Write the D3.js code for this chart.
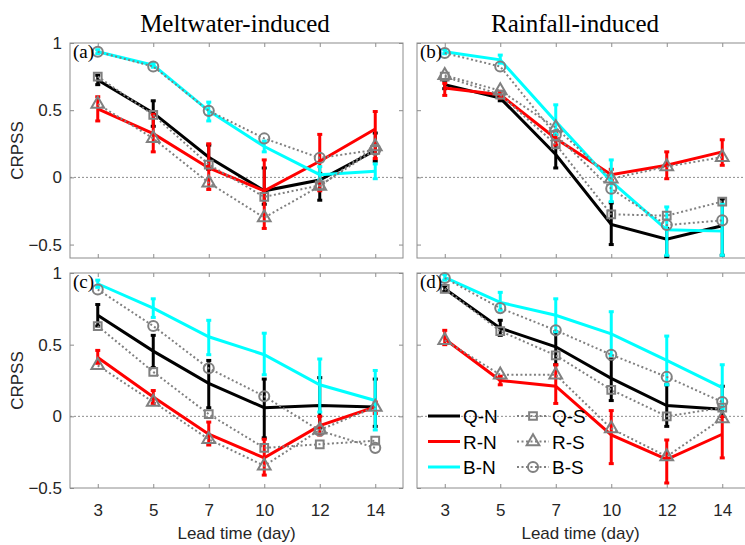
<!DOCTYPE html>
<html>
<head>
<meta charset="utf-8">
<script src="https://cdn.jsdelivr.net/npm/d3@7"></script>
<style>
  body { margin: 0; background: #fff; }
  svg { display: block; }
</style>
</head>
<body>
<div id="chart"></div>
<script>
"use strict";

// lead times (x categories) and y ticks
const leadTimes = ["3", "5", "7", "10", "12", "14"];
const yTicks = [-0.5, 0, 0.5, 1];
const colTitles = ["Meltwater-induced", "Rainfall-induced"];
const legendNames = ["Q-N", "R-N", "B-N", "Q-S", "R-S", "B-S"];

/* (a) meltwater, top row */
const a_QN    = [0.725, 0.48, 0.15, -0.10, -0.02, 0.20];
const a_QN_lo = [0.69, 0.38, 0.06, -0.20, -0.17, 0.12];
const a_QN_hi = [0.76, 0.57, 0.24, 0.07, 0.03, 0.33];
const a_RN    = [0.51, 0.325, 0.07, -0.10, 0.12, 0.36];
const a_RN_lo = [0.42, 0.19, -0.09, -0.38, -0.10, 0.14];
const a_RN_hi = [0.60, 0.47, 0.25, 0.13, 0.32, 0.49];
const a_BN    = [0.935, 0.835, 0.495, 0.23, 0.02, 0.045];
const a_BN_lo = [0.92, 0.82, 0.42, 0.19, -0.02, -0.01];
const a_BN_hi = [0.95, 0.85, 0.56, 0.27, 0.08, 0.10];
const a_QS    = [0.75, 0.465, 0.095, -0.145, -0.06, 0.205];
const a_RS    = [0.545, 0.29, -0.04, -0.30, -0.065, 0.23];
const a_BS    = [0.935, 0.825, 0.495, 0.29, 0.145, 0.205];

/* (b) rainfall, top row */
const b_QN    = [0.69, 0.59, 0.17, -0.35, -0.46, -0.36];
const b_QN_lo = [0.66, 0.57, 0.07, -0.50, -0.59, -0.58];
const b_QN_hi = [0.72, 0.61, 0.32, -0.19, -0.38, -0.16];
const b_RN    = [0.665, 0.615, 0.29, 0.02, 0.09, 0.19];
const b_RN_lo = [0.61, 0.59, 0.24, -0.02, -0.01, 0.09];
const b_RN_hi = [0.70, 0.64, 0.34, 0.06, 0.19, 0.28];
const b_BN    = [0.935, 0.875, 0.415, -0.03, -0.39, -0.40];
const b_BN_lo = [0.92, 0.85, 0.32, -0.18, -0.58, -0.58];
const b_BN_hi = [0.95, 0.91, 0.54, 0.13, -0.22, -0.20];
const b_QS    = [0.75, 0.615, 0.245, -0.275, -0.285, -0.18];
const b_RS    = [0.76, 0.645, 0.37, -0.01, 0.08, 0.15];
const b_BS    = [0.925, 0.825, 0.315, -0.085, -0.355, -0.32];

/* (c) meltwater, bottom row */
const c_QN    = [0.705, 0.455, 0.23, 0.06, 0.075, 0.065];
const c_QN_lo = [0.63, 0.34, 0.06, -0.15, -0.08, -0.07];
const c_QN_hi = [0.78, 0.565, 0.39, 0.26, 0.27, 0.26];
const c_RN    = [0.41, 0.135, -0.125, -0.29, -0.065, 0.065];
const c_RN_lo = [0.37, 0.09, -0.20, -0.41, -0.13, 0.02];
const c_RN_hi = [0.46, 0.18, -0.04, -0.16, 0.00, 0.10];
const c_BN    = [0.925, 0.755, 0.555, 0.43, 0.22, 0.11];
const c_BN_lo = [0.90, 0.69, 0.43, 0.29, 0.03, -0.095];
const c_BN_hi = [0.95, 0.82, 0.67, 0.58, 0.40, 0.32];
const c_QS    = [0.63, 0.31, 0.015, -0.22, -0.195, -0.17];
const c_RS    = [0.355, 0.10, -0.16, -0.345, -0.095, 0.065];
const c_BS    = [0.885, 0.63, 0.335, 0.14, -0.10, -0.22];

/* (d) rainfall, bottom row */
const d_QN    = [0.89, 0.615, 0.485, 0.265, 0.075, 0.05];
const d_QN_lo = [0.87, 0.565, 0.36, 0.11, -0.07, 0.00];
const d_QN_hi = [0.91, 0.67, 0.59, 0.40, 0.22, 0.21];
const d_RN    = [0.54, 0.25, 0.21, -0.13, -0.30, -0.125];
const d_RN_lo = [0.50, 0.22, 0.09, -0.33, -0.465, -0.29];
const d_RN_hi = [0.60, 0.28, 0.36, 0.04, -0.165, 0.00];
const d_BN    = [0.97, 0.795, 0.705, 0.575, 0.39, 0.20];
const d_BN_lo = [0.95, 0.74, 0.59, 0.425, 0.22, 0.055];
const d_BN_hi = [0.99, 0.865, 0.82, 0.73, 0.56, 0.36];
const d_QS    = [0.89, 0.595, 0.425, 0.185, 0.00, 0.06];
const d_RS    = [0.53, 0.29, 0.29, -0.085, -0.28, -0.015];
const d_BS    = [0.965, 0.755, 0.60, 0.43, 0.275, 0.10];

const nColors = ["#000000", "#ff0000", "#00ffff"];
const grey = "#808080";
const axisGrey = "#8c8c8c";
const symbols = [d3.symbolSquare, d3.symbolTriangle, d3.symbolCircle];
const symbolSizes = [60, 70, 80];

const W = 333, H = 215;

const panels = [
  {tag: "(a)", left: 70, top: 43, ydom: [-0.6, 1], ylab: true, xlab: false,
   N: [[a_QN, a_QN_lo, a_QN_hi], [a_RN, a_RN_lo, a_RN_hi], [a_BN, a_BN_lo, a_BN_hi]], S: [a_QS, a_RS, a_BS]},
  {tag: "(b)", left: 417, top: 43, ydom: [-0.6, 1], ylab: false, xlab: false,
   N: [[b_QN, b_QN_lo, b_QN_hi], [b_RN, b_RN_lo, b_RN_hi], [b_BN, b_BN_lo, b_BN_hi]], S: [b_QS, b_RS, b_BS]},
  {tag: "(c)", left: 70, top: 273, ydom: [-0.5, 1], ylab: true, xlab: true,
   N: [[c_QN, c_QN_lo, c_QN_hi], [c_RN, c_RN_lo, c_RN_hi], [c_BN, c_BN_lo, c_BN_hi]], S: [c_QS, c_RS, c_BS]},
  {tag: "(d)", left: 417, top: 273, ydom: [-0.5, 1], ylab: false, xlab: true, legend: true,
   N: [[d_QN, d_QN_lo, d_QN_hi], [d_RN, d_RN_lo, d_RN_hi], [d_BN, d_BN_lo, d_BN_hi]], S: [d_QS, d_RS, d_BS]}
];

const svg = d3.select("#chart").append("svg")
    .attr("width", 745)
    .attr("height", 545);

const draw_panel = function(p){
  const x = d3.scalePoint().domain(leadTimes).range([p.left, p.left + W]).padding(0.5);
  const y = d3.scaleLinear().domain(p.ydom).range([p.top + H, p.top]);
  const g = svg.append("g");

  // zero reference line
  g.append("line")
      .attr("x1", p.left).attr("x2", p.left + W)
      .attr("y1", y(0)).attr("y2", y(0))
      .attr("stroke", axisGrey)
      .attr("stroke-width", 1)
      .attr("stroke-dasharray", "2,2");

  // axes, ticks pointing inwards on all four sides
  const fmt = d => d3.format("")(d);
  const left = g.append("g").attr("transform", `translate(${p.left},0)`)
      .call(d3.axisLeft(y).tickValues(yTicks).tickSizeInner(-4).tickSizeOuter(0).tickPadding(8)
        .tickFormat(p.ylab ? fmt : ""));
  const right = g.append("g").attr("transform", `translate(${p.left + W},0)`)
      .call(d3.axisRight(y).tickValues(yTicks).tickSizeInner(-4).tickSizeOuter(0).tickFormat(""));
  const bottom = g.append("g").attr("transform", `translate(0,${p.top + H})`)
      .call(d3.axisBottom(x).tickSizeInner(-4).tickSizeOuter(0).tickPadding(16)
        .tickFormat(p.xlab ? (d => d) : ""));
  const topAx = g.append("g").attr("transform", `translate(0,${p.top})`)
      .call(d3.axisTop(x).tickSizeInner(-4).tickSizeOuter(0).tickFormat(""));

  [left, right, bottom, topAx].forEach(a => {
    a.select(".domain").remove();
    a.selectAll(".tick line").attr("stroke", axisGrey);
    a.selectAll(".tick text")
        .attr("fill", "#262626")
        .style("font-family", "'Liberation Sans', Arial, sans-serif")
        .style("font-size", "17px");
  });

  g.append("rect")
      .attr("x", p.left).attr("y", p.top)
      .attr("width", W).attr("height", H)
      .attr("fill", "none")
      .attr("stroke", axisGrey)
      .attr("stroke-width", 1);

  // N series: solid coloured lines with error bars
  p.N.forEach((s, k) => {
    const pts = leadTimes.map((t, i) => ({t: t, v: s[0][i], lo: s[1][i], hi: s[2][i]}));
    const line = d3.line().x(d => x(d.t)).y(d => y(d.v));
    g.append("path")
        .datum(pts)
        .attr("d", line)
        .attr("fill", "none")
        .attr("stroke", nColors[k])
        .attr("stroke-width", 3);

    const eb = g.selectAll(null).data(pts).enter().append("g").attr("stroke", nColors[k]);
    eb.append("line")
        .attr("x1", d => x(d.t)).attr("x2", d => x(d.t))
        .attr("y1", d => y(d.lo)).attr("y2", d => y(d.hi))
        .attr("stroke-width", 3);
    eb.append("line")
        .attr("x1", d => x(d.t) - 2.5).attr("x2", d => x(d.t) + 2.5)
        .attr("y1", d => y(d.lo)).attr("y2", d => y(d.lo))
        .attr("stroke-width", 3);
    eb.append("line")
        .attr("x1", d => x(d.t) - 2.5).attr("x2", d => x(d.t) + 2.5)
        .attr("y1", d => y(d.hi)).attr("y2", d => y(d.hi))
        .attr("stroke-width", 3);
  });

  // S series: grey dotted lines with open markers
  p.S.forEach((s, k) => {
    const pts = leadTimes.map((t, i) => ({t: t, v: s[i]}));
    const line = d3.line().x(d => x(d.t)).y(d => y(d.v));
    g.append("path")
        .datum(pts)
        .attr("d", line)
        .attr("fill", "none")
        .attr("stroke", grey)
        .attr("stroke-width", 2)
        .attr("stroke-dasharray", "2,2.5");
    g.selectAll(null).data(pts).enter().append("path")
        .attr("d", d3.symbol().type(symbols[k]).size(symbolSizes[k]))
        .attr("transform", d => `translate(${x(d.t)},${y(d.v)})`)
        .attr("fill", "none")
        .attr("stroke", grey)
        .attr("stroke-width", 2);
  });

  g.append("text")
      .attr("x", p.left + 3)
      .attr("y", p.top + 15)
      .style("font-family", "'Liberation Serif', 'Times New Roman', serif")
      .style("font-size", "19px")
      .attr("fill", "#000")
      .text(p.tag);

  if (p.ylab) {
    g.append("text")
        .attr("transform", `translate(23,${p.top + H / 2}) rotate(-90)`)
        .attr("text-anchor", "middle")
        .style("font-family", "'Liberation Sans', Arial, sans-serif")
        .style("font-size", "17px")
        .attr("fill", "#262626")
        .text("CRPSS");
  }
  if (p.xlab) {
    g.append("text")
        .attr("x", p.left + W / 2 - (p.left > 100 ? 3 : 0))
        .attr("y", 539)
        .attr("text-anchor", "middle")
        .style("font-family", "'Liberation Sans', Arial, sans-serif")
        .style("font-size", "17px")
        .attr("fill", "#262626")
        .text("Lead time (day)");
  }

  if (p.legend) {
    const lg = g.append("g").attr("transform", `translate(${p.left + 11},${p.top + 143})`);
    const rowH = 25.5;
    legendNames.forEach((name, i) => {
      const col = Math.floor(i / 3), row = i % 3;
      const x0 = col === 0 ? 0 : 89;
      const item = lg.append("g").attr("transform", `translate(${x0},${row * rowH})`);
      if (col === 0) {
        item.append("line").attr("x1", 0).attr("x2", 32)
            .attr("stroke", nColors[row]).attr("stroke-width", 3);
      } else {
        item.append("line").attr("x1", 0).attr("x2", 32)
            .attr("stroke", grey).attr("stroke-width", 2).attr("stroke-dasharray", "2,2.5");
        item.append("path")
            .attr("d", d3.symbol().type(symbols[row]).size(symbolSizes[row]))
            .attr("transform", "translate(16,0)")
            .attr("fill", "none").attr("stroke", grey).attr("stroke-width", 2);
      }
      item.append("text")
          .attr("x", 35)
          .attr("y", 7)
          .style("font-family", "'Liberation Sans', Arial, sans-serif")
          .style("font-size", "19px")
          .attr("fill", "#000")
          .text(name);
    });
  }
};

panels.forEach(draw_panel);

// column titles
const titleX = [235, 575];
colTitles.forEach((t, i) => {
  svg.append("text")
      .attr("x", titleX[i])
      .attr("y", 32)
      .attr("text-anchor", "middle")
      .style("font-family", "'Liberation Serif', 'Times New Roman', serif")
      .style("font-size", "25px")
      .attr("fill", "#000")
      .text(t);
});
</script>
</body>
</html>
